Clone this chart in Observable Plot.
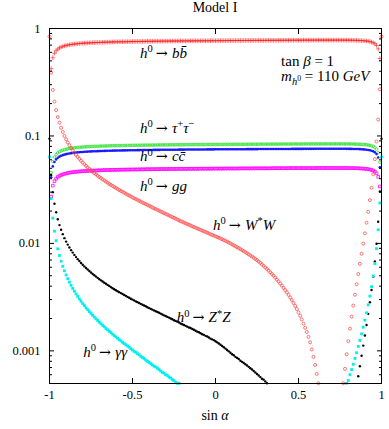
<!DOCTYPE html>
<html><head><meta charset="utf-8">
<script src="https://cdn.jsdelivr.net/npm/d3@7"></script>
<script src="https://cdn.jsdelivr.net/npm/@observablehq/plot@0.6"></script>
<style>
html,body{margin:0;padding:0;background:#fff;}
svg{display:block;}
</style></head><body><div id="chart"></div>
<script>
const _ = null;
// sin(alpha) sampled from -1 to 1 in steps of 0.01 (201 points)
const sinAlpha = d3.range(-100, 101).map(i => i / 100);

const brBB = [
_,0.423,0.534,0.588,0.621,0.643,0.659,0.671,0.681,0.689,
0.695,0.701,0.706,0.710,0.713,0.717,0.720,0.722,0.725,0.727,
0.729,0.731,0.732,0.734,0.735,0.737,0.738,0.739,0.740,0.741,
0.742,0.743,0.744,0.745,0.746,0.747,0.748,0.748,0.749,0.750,
0.751,0.751,0.752,0.752,0.753,0.753,0.754,0.754,0.755,0.755,
0.756,0.756,0.757,0.757,0.758,0.758,0.758,0.759,0.759,0.760,
0.760,0.760,0.761,0.761,0.761,0.762,0.762,0.762,0.763,0.763,
0.763,0.763,0.764,0.764,0.764,0.765,0.765,0.765,0.765,0.766,
0.766,0.766,0.766,0.767,0.767,0.767,0.767,0.768,0.768,0.768,
0.768,0.768,0.769,0.769,0.769,0.769,0.769,0.770,0.770,0.770,
0.770,0.770,0.771,0.771,0.771,0.771,0.771,0.772,0.772,0.772,
0.772,0.772,0.773,0.773,0.773,0.773,0.773,0.773,0.774,0.774,
0.774,0.774,0.774,0.774,0.775,0.775,0.775,0.775,0.775,0.775,
0.775,0.776,0.776,0.776,0.776,0.776,0.776,0.776,0.777,0.777,
0.777,0.777,0.777,0.777,0.777,0.778,0.778,0.778,0.778,0.778,
0.778,0.778,0.778,0.779,0.779,0.779,0.779,0.779,0.779,0.779,
0.779,0.780,0.780,0.780,0.780,0.780,0.780,0.780,0.780,0.780,
0.780,0.780,0.780,0.780,0.780,0.780,0.780,0.779,0.779,0.779,
0.779,0.778,0.778,0.777,0.776,0.776,0.775,0.773,0.772,0.770,
0.768,0.765,0.761,0.756,0.748,0.738,0.722,0.696,0.646,0.526,
_];

const brTauTau = [
_,0.0458,0.0578,0.0637,0.0672,0.0696,0.0713,0.0726,0.0737,0.0745,
0.0752,0.0758,0.0763,0.0768,0.0772,0.0775,0.0779,0.0781,0.0784,0.0786,
0.0789,0.0791,0.0792,0.0794,0.0796,0.0797,0.0799,0.0800,0.0801,0.0802,
0.0803,0.0805,0.0806,0.0806,0.0807,0.0808,0.0809,0.0810,0.0811,0.0811,
0.0812,0.0813,0.0813,0.0814,0.0815,0.0815,0.0816,0.0816,0.0817,0.0817,
0.0818,0.0818,0.0819,0.0819,0.0820,0.0820,0.0821,0.0821,0.0822,0.0822,
0.0822,0.0823,0.0823,0.0823,0.0824,0.0824,0.0825,0.0825,0.0825,0.0826,
0.0826,0.0826,0.0826,0.0827,0.0827,0.0827,0.0828,0.0828,0.0828,0.0828,
0.0829,0.0829,0.0829,0.0830,0.0830,0.0830,0.0830,0.0831,0.0831,0.0831,
0.0831,0.0831,0.0832,0.0832,0.0832,0.0832,0.0833,0.0833,0.0833,0.0833,
0.0833,0.0834,0.0834,0.0834,0.0834,0.0835,0.0835,0.0835,0.0835,0.0835,
0.0835,0.0836,0.0836,0.0836,0.0836,0.0836,0.0837,0.0837,0.0837,0.0837,
0.0837,0.0837,0.0838,0.0838,0.0838,0.0838,0.0838,0.0839,0.0839,0.0839,
0.0839,0.0839,0.0839,0.0840,0.0840,0.0840,0.0840,0.0840,0.0840,0.0840,
0.0841,0.0841,0.0841,0.0841,0.0841,0.0841,0.0841,0.0842,0.0842,0.0842,
0.0842,0.0842,0.0842,0.0842,0.0843,0.0843,0.0843,0.0843,0.0843,0.0843,
0.0843,0.0843,0.0843,0.0843,0.0843,0.0843,0.0843,0.0843,0.0843,0.0843,
0.0843,0.0843,0.0843,0.0843,0.0843,0.0843,0.0843,0.0843,0.0843,0.0843,
0.0842,0.0842,0.0841,0.0841,0.0840,0.0839,0.0838,0.0837,0.0835,0.0833,
0.0831,0.0827,0.0823,0.0818,0.0810,0.0799,0.0781,0.0753,0.0699,0.0569,
_];

const brCC = [
_,0.0412,0.0521,0.0573,0.0605,0.0627,0.0642,0.0654,0.0663,0.0671,
0.0677,0.0683,0.0687,0.0692,0.0695,0.0698,0.0701,0.0704,0.0706,0.0708,
0.0710,0.0712,0.0713,0.0715,0.0717,0.0718,0.0719,0.0720,0.0721,0.0722,
0.0723,0.0724,0.0725,0.0726,0.0727,0.0728,0.0729,0.0729,0.0730,0.0731,
0.0731,0.0732,0.0732,0.0733,0.0734,0.0734,0.0735,0.0735,0.0736,0.0736,
0.0737,0.0737,0.0737,0.0738,0.0738,0.0739,0.0739,0.0739,0.0740,0.0740,
0.0740,0.0741,0.0741,0.0742,0.0742,0.0742,0.0742,0.0743,0.0743,0.0743,
0.0744,0.0744,0.0744,0.0744,0.0745,0.0745,0.0745,0.0745,0.0746,0.0746,
0.0746,0.0746,0.0747,0.0747,0.0747,0.0747,0.0748,0.0748,0.0748,0.0748,
0.0749,0.0749,0.0749,0.0749,0.0749,0.0750,0.0750,0.0750,0.0750,0.0750,
0.0751,0.0751,0.0751,0.0751,0.0751,0.0751,0.0752,0.0752,0.0752,0.0752,
0.0752,0.0752,0.0753,0.0753,0.0753,0.0753,0.0753,0.0753,0.0753,0.0754,
0.0754,0.0754,0.0754,0.0754,0.0754,0.0754,0.0755,0.0755,0.0755,0.0755,
0.0755,0.0755,0.0756,0.0756,0.0756,0.0756,0.0756,0.0756,0.0756,0.0757,
0.0757,0.0757,0.0757,0.0757,0.0757,0.0757,0.0758,0.0758,0.0758,0.0758,
0.0758,0.0758,0.0758,0.0759,0.0759,0.0759,0.0759,0.0759,0.0759,0.0759,
0.0760,0.0760,0.0760,0.0760,0.0760,0.0760,0.0760,0.0760,0.0760,0.0760,
0.0760,0.0760,0.0760,0.0760,0.0760,0.0760,0.0760,0.0760,0.0760,0.0759,
0.0759,0.0758,0.0758,0.0757,0.0757,0.0756,0.0755,0.0754,0.0752,0.0750,
0.0748,0.0745,0.0741,0.0736,0.0729,0.0719,0.0704,0.0678,0.0630,0.0512,
_];

const brGG = [
_,0.0273,0.0345,0.0379,0.0400,0.0415,0.0425,0.0433,0.0439,0.0444,
0.0448,0.0452,0.0455,0.0458,0.0460,0.0462,0.0464,0.0466,0.0467,0.0469,
0.0470,0.0471,0.0472,0.0473,0.0474,0.0475,0.0476,0.0477,0.0477,0.0478,
0.0479,0.0479,0.0480,0.0481,0.0481,0.0482,0.0482,0.0483,0.0483,0.0484,
0.0484,0.0484,0.0485,0.0485,0.0486,0.0486,0.0486,0.0487,0.0487,0.0487,
0.0487,0.0488,0.0488,0.0488,0.0489,0.0489,0.0489,0.0489,0.0490,0.0490,
0.0490,0.0490,0.0491,0.0491,0.0491,0.0491,0.0491,0.0492,0.0492,0.0492,
0.0492,0.0492,0.0493,0.0493,0.0493,0.0493,0.0493,0.0493,0.0494,0.0494,
0.0494,0.0494,0.0494,0.0494,0.0495,0.0495,0.0495,0.0495,0.0495,0.0495,
0.0495,0.0496,0.0496,0.0496,0.0496,0.0496,0.0496,0.0496,0.0496,0.0497,
0.0497,0.0497,0.0497,0.0497,0.0497,0.0497,0.0498,0.0498,0.0498,0.0498,
0.0498,0.0498,0.0498,0.0498,0.0498,0.0499,0.0499,0.0499,0.0499,0.0499,
0.0499,0.0499,0.0499,0.0500,0.0500,0.0500,0.0500,0.0500,0.0500,0.0500,
0.0500,0.0500,0.0500,0.0500,0.0501,0.0501,0.0501,0.0501,0.0501,0.0501,
0.0501,0.0501,0.0501,0.0501,0.0501,0.0502,0.0502,0.0502,0.0502,0.0502,
0.0502,0.0502,0.0502,0.0502,0.0502,0.0502,0.0502,0.0502,0.0502,0.0502,
0.0502,0.0503,0.0503,0.0503,0.0503,0.0503,0.0503,0.0503,0.0503,0.0503,
0.0503,0.0503,0.0503,0.0503,0.0503,0.0503,0.0503,0.0503,0.0503,0.0503,
0.0503,0.0502,0.0502,0.0502,0.0501,0.0501,0.0500,0.0499,0.0498,0.0497,
0.0495,0.0493,0.0491,0.0487,0.0483,0.0476,0.0466,0.0449,0.0417,0.0339,
_];

const brWW = [
0.842,0.388,0.268,0.209,0.174,0.150,0.133,0.119,0.109,0.100,
0.0932,0.0871,0.0819,0.0774,0.0734,0.0698,0.0667,0.0638,0.0612,0.0588,
0.0566,0.0546,0.0527,0.0510,0.0494,0.0479,0.0465,0.0451,0.0439,0.0427,
0.0415,0.0405,0.0395,0.0385,0.0376,0.0367,0.0358,0.0350,0.0343,0.0335,
0.0328,0.0321,0.0314,0.0308,0.0302,0.0296,0.0290,0.0284,0.0279,0.0274,
0.0268,0.0263,0.0259,0.0254,0.0249,0.0245,0.0240,0.0236,0.0232,0.0228,
0.0224,0.0220,0.0216,0.0212,0.0209,0.0205,0.0202,0.0198,0.0195,0.0191,
0.0188,0.0185,0.0182,0.0179,0.0176,0.0173,0.0170,0.0167,0.0164,0.0161,
0.0159,0.01563,0.01538,0.01513,0.01490,0.01467,0.01444,0.01421,0.01399,0.01378,
0.01357,0.01336,0.01316,0.01296,0.01277,0.01257,0.01238,0.01219,0.01200,0.01182,
0.01165,0.01147,0.01129,0.01111,0.01093,0.01075,0.01056,0.01037,0.01018,0.00999,
0.00978,0.00960,0.00941,0.00922,0.00903,0.00885,0.00866,0.00848,0.00829,0.00810,
0.00791,0.00773,0.00755,0.00736,0.00717,0.00699,0.00679,0.00659,0.00638,0.00618,
0.00598,0.00578,0.00558,0.00538,0.00519,0.00500,0.00481,0.00461,0.00443,0.00423,
0.00405,0.00386,0.00368,0.00350,0.00332,0.00314,0.00297,0.00279,0.00262,0.00245,
0.00228,0.00212,0.00196,0.00179,0.00164,0.00150,0.00135,0.00120,0.00103,0.00088,
0.00074,0.00061,0.00050,_,_,_,_,_,_,_,
_,_,_,_,_,_,_,0.00050,0.00068,0.00093,
0.00123,0.00161,0.00208,0.00264,0.00333,0.00417,0.00519,0.00645,0.00801,0.00996,
0.0124,0.0156,0.0197,0.0253,0.0329,0.0439,0.0608,0.0888,0.142,0.272,
0.842];

const brZZ = [
0.0942,0.0434,0.0300,0.0234,0.0195,0.0168,0.0148,0.0134,0.0122,0.0112,
0.0104,0.00975,0.00917,0.00866,0.00821,0.00782,0.00746,0.00714,0.00685,0.00658,
0.00634,0.00611,0.00590,0.00571,0.00553,0.00536,0.00520,0.00505,0.00491,0.00478,
0.00465,0.00453,0.00442,0.00431,0.00421,0.00411,0.00401,0.00392,0.00383,0.00375,
0.00367,0.00359,0.00352,0.00345,0.00338,0.00331,0.00325,0.00318,0.00312,0.00306,
0.00300,0.00295,0.00289,0.00284,0.00279,0.00274,0.00269,0.00264,0.00260,0.00255,
0.00250,0.00246,0.00242,0.00238,0.00234,0.00230,0.00226,0.00222,0.00218,0.00214,
0.00211,0.00207,0.00204,0.00200,0.00197,0.00193,0.00190,0.00187,0.00184,0.00180,
0.00177,0.00174,0.00171,0.00168,0.00165,0.00163,0.00160,0.00157,0.00154,0.00151,
0.00149,0.00146,0.00143,0.00141,0.00138,0.00136,0.00133,0.00130,0.00128,0.00126,
0.00123,0.00120,0.00117,0.00114,0.00111,0.00108,0.00105,0.00102,0.00099,0.00096,
0.00093,0.00091,0.00088,0.00086,0.00084,0.00081,0.00079,0.00077,0.00075,0.00073,
0.00071,0.00069,0.00067,0.00065,0.00063,0.00061,0.00059,0.00057,0.00055,0.00054,
0.00052,0.00050,_,_,_,_,_,_,_,_,
_,_,_,_,_,_,_,_,_,_,
_,_,_,_,_,_,_,_,_,_,
_,_,_,_,_,_,_,_,_,_,
_,_,_,_,_,_,_,_,_,_,
_,_,_,_,_,_,0.00058,0.00072,0.00090,0.00112,
0.00139,0.00174,0.00221,0.00283,0.00368,0.00492,0.00680,0.00994,0.0159,0.0304,
0.0942];

const brGammaGamma = [
0.0637,0.0261,0.0172,0.0130,0.0106,0.00891,0.00772,0.00683,0.00613,0.00556,
0.00509,0.00470,0.00436,0.00407,0.00381,0.00359,0.00339,0.00321,0.00304,0.00290,
0.00276,0.00264,0.00252,0.00242,0.00232,0.00223,0.00214,0.00207,0.00199,0.00192,
0.00185,0.00179,0.00173,0.00168,0.00162,0.00157,0.00152,0.00148,0.00143,0.00139,
0.00135,0.00131,0.00127,0.00124,0.00120,0.00117,0.00114,0.00111,0.00108,0.00105,
0.00102,0.00099,0.00097,0.00094,0.00092,0.00089,0.00087,0.00085,0.00082,0.00080,
0.00078,0.00076,0.00074,0.00072,0.00071,0.00069,0.00067,0.00065,0.00063,0.00062,
0.00060,0.00059,0.00057,0.00056,0.00054,0.00053,0.00051,0.00050,0.00050,_,
_,_,_,_,_,_,_,_,_,_,
_,_,_,_,_,_,_,_,_,_,
_,_,_,_,_,_,_,_,_,_,
_,_,_,_,_,_,_,_,_,_,
_,_,_,_,_,_,_,_,_,_,
_,_,_,_,_,_,_,_,_,_,
_,_,_,_,_,_,_,_,_,_,
_,_,_,_,_,_,_,_,_,_,
_,_,_,_,_,_,_,_,_,_,
_,_,_,_,_,_,_,_,_,0.00050,
0.00053,0.00060,0.00067,0.00075,0.00085,0.00096,0.00110,0.00125,0.00144,0.00166,
0.00193,0.00226,0.00268,0.00323,0.00396,0.00499,0.00650,0.00894,0.0134,0.0238,
0.0637];

const yTicks = [1, 0.1, 0.01, 0.001];
const yTickLabels = ["1", "0.1", "0.01", "0.001"];
const yMinorTicks = [0.0006,0.0007,0.0008,0.0009,0.002,0.003,0.004,0.005,0.006,0.007,0.008,0.009,
  0.02,0.03,0.04,0.05,0.06,0.07,0.08,0.09,0.2,0.3,0.4,0.5,0.6,0.7,0.8,0.9];
const xTicks = [-1, -0.5, 0, 0.5, 1];
const xTickLabels = ["-1", "-0.5", "0", "0.5", "1"];

const titleText = "Model I";

// annotation anchors (data coordinates: sin alpha, branching ratio at text baseline)
const annotations = [
  {x: -0.452, y: 0.526,  segs: [["h","i"],["0","sup"],["→","arrow"],["b","i"],["b\u0304","i"]]},
  {x: 0.398,  y: 0.443,  segs: [["tan ",""],["β","i"],[" = 1",""]]},
  {x: 0.398,  y: 0.321,  segs: [["m","i"],["h","isub"],["0","ssub"],[" = 110 ",""],["GeV","i"]]},
  {x: -0.452, y: 0.106,  segs: [["h","i"],["0","sup"],["→","arrow"],["τ","i"],["+","sup"],["τ","i"],["−","sup"]]},
  {x: -0.452, y: 0.0578, segs: [["h","i"],["0","sup"],["→","arrow"],["c","i"],["c\u0304","i"]]},
  {x: -0.452, y: 0.0305, segs: [["h","i"],["0","sup"],["→","arrow"],["gg","i"]]},
  {x: -0.012, y: 0.0133, segs: [["h","i"],["0","sup"],["→","arrow"],["W","i"],["*","sup"],["W","i"]]},
  {x: -0.231, y: 0.00182,segs: [["h","i"],["0","sup"],["→","arrow"],["Z","i"],["*","sup"],["Z","i"]]},
  {x: -0.793, y: 0.00087,segs: [["h","i"],["0","sup"],["→","arrow"],["γγ","i"]]}
];
const xLabelSegs = [["sin ",""],["α","i"]];

const series = [
  {values: brBB,         symbol: "plus",   r: 1.6, stroke: "#ff1a1a", fill: "none",    sw: 0.6},
  {values: brTauTau,     symbol: "circle", r: 1.3, stroke: "#30e030", fill: "none",    sw: 0.8},
  {values: brCC,         symbol: "circle", r: 1.3, stroke: "none",    fill: "#1a1aff", sw: 0},
  {values: brGG,         symbol: "square", r: 1.5, stroke: "#ff00ff", fill: "none",    sw: 0.8},
  {values: brWW,         symbol: "circle", r: 1.5, stroke: "#ff4848", fill: "none",    sw: 0.75},
  {values: brZZ,         symbol: "circle", r: 1.2, stroke: "none",    fill: "#000000", sw: 0},
  {values: brGammaGamma, symbol: "square", r: 1.6, stroke: "none",    fill: "#00f0f0", sw: 0}
];

for (const s of series) if (s.values.length !== sinAlpha.length) throw new Error("length mismatch " + s.values.length);

const toPoints = vals => vals.map((v, i) => v == null ? null : {x: sinAlpha[i], y: v}).filter(Boolean);
const fmtY = d => yTickLabels[yTicks.indexOf(d)];
const fmtX = d => xTickLabels[xTicks.indexOf(d)];
const blank = () => "";

const chart = Plot.plot({
  width: 389,
  height: 429,
  marginLeft: 49,
  marginRight: 8,
  marginTop: 28,
  marginBottom: 46,
  style: {fontFamily: "'Liberation Serif', 'DejaVu Serif', serif", fontSize: "12.5px", background: "#fff", color: "#000"},
  x: {domain: [-1, 1], label: null},
  y: {type: "log", domain: [0.000497, 1], label: null},
  marks: [
    ...series.map(s => Plot.dot(toPoints(s.values), {
      x: "x", y: "y", symbol: s.symbol, r: s.r,
      stroke: s.stroke, fill: s.fill, strokeWidth: s.sw
    })),
    Plot.frame({stroke: "#000", strokeWidth: 1}),
    Plot.axisY(yTicks, {anchor: "left", tickSize: 0, tickPadding: 9, tickFormat: fmtY}),
    Plot.axisY(yTicks, {anchor: "left", tickSize: -5, tickFormat: blank}),
    Plot.axisY(yTicks, {anchor: "right", tickSize: -5, tickFormat: blank}),
    Plot.axisY(yMinorTicks, {anchor: "left", tickSize: -3, tickFormat: blank}),
    Plot.axisY(yMinorTicks, {anchor: "right", tickSize: -3, tickFormat: blank}),
    Plot.axisX(xTicks, {anchor: "bottom", tickSize: 0, tickPadding: 7, tickFormat: fmtX}),
    Plot.axisX(xTicks, {anchor: "bottom", tickSize: -5, tickFormat: blank}),
    Plot.axisX(xTicks, {anchor: "top", tickSize: -5, tickFormat: blank})
  ]
});

const sx = chart.scale("x"), sy = chart.scale("y");
const svg = d3.select(chart);

function mathText(g, segs) {
  let cur = 0;
  for (const [t, mode] of segs) {
    let target = 0, size = null, italic = false;
    if (mode === "i") italic = true;
    if (mode === "sup") { target = -5.5; size = "70%"; }
    if (mode === "isub") { target = 3.5; size = "70%"; italic = true; }
    if (mode === "ssub") { target = -0.5; size = "52%"; }
    const ts = g.append("tspan").text(t).attr("dy", target - cur);
    cur = target;
    if (size) ts.attr("font-size", size);
    if (italic) ts.attr("font-style", "italic");
    if (mode === "arrow") {
      ts.attr("dx", 3).attr("font-family", "'DejaVu Serif', serif").attr("font-size", "95%");
      g.append("tspan").attr("dx", 3).text("\u200a");
    }
  }
}

const ann = svg.append("g")
  .attr("font-family", "'Liberation Serif', 'DejaVu Serif', serif")
  .attr("font-size", 15)
  .attr("fill", "#000");

for (const a of annotations) {
  const t = ann.append("text").attr("x", sx.apply(a.x)).attr("y", sy.apply(a.y)).attr("text-anchor", "start");
  mathText(t, a.segs);
}

ann.append("text")
  .attr("x", sx.apply(0)).attr("y", 12).attr("text-anchor", "middle")
  .attr("font-size", 14)
  .text(titleText);

const xl = ann.append("text")
  .attr("x", sx.apply(0)).attr("y", 420).attr("text-anchor", "middle")
  .attr("font-size", 14);
mathText(xl, xLabelSegs);

document.getElementById("chart").appendChild(chart);
</script>
</body></html>
